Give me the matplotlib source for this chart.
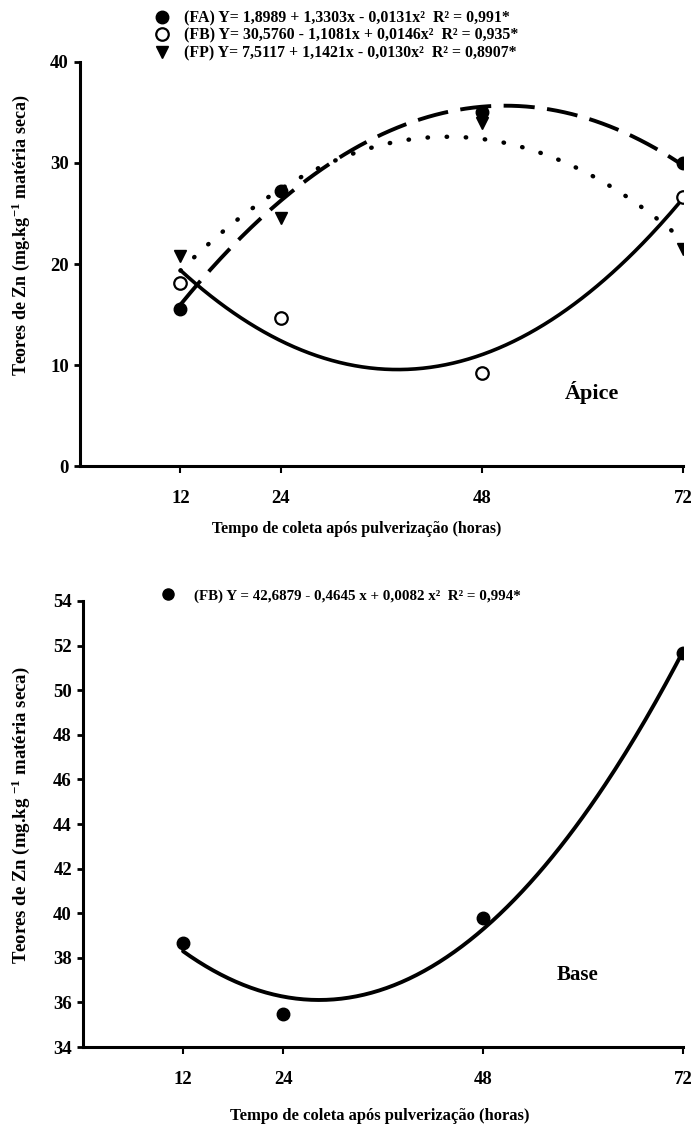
import numpy as np
import matplotlib.pyplot as plt
from matplotlib.lines import Line2D

plt.rcParams['font.family'] = 'Liberation Serif'
plt.rcParams['font.weight'] = 'bold'
plt.rcParams['mathtext.fontset'] = 'custom'
plt.rcParams['mathtext.rm'] = 'Liberation Serif:bold'
plt.rcParams['mathtext.it'] = 'Liberation Serif:bold'
plt.rcParams['mathtext.bf'] = 'Liberation Serif:bold'

# tempo de coleta (horas)
horas = [12, 24, 48, 72]

# apice: teores medidos
fa_apice = [15.5, 27.2, 35.0, 30.0]
fb_apice = [18.1, 14.7, 9.2, 26.6]
fp_apice = [20.8, 24.6, 34.0, 21.5]

# base: teores medidos
fb_base = [38.65, 35.5, 39.8, 51.65]

# coeficientes das regressoes (a, b, c) -> Y = a + b x + c x^2
coef_fa = [1.8989, 1.3303, -0.0131]
coef_fb = [30.5760, -1.1081, 0.0146]
coef_fp = [7.5117, 1.1421, -0.0130]
coef_base = [42.6879, -0.4645, 0.0082]

leg_apice = ["(FA) Y= 1,8989 + 1,3303x - 0,0131x²  R² = 0,991*",
             "(FB) Y= 30,5760 - 1,1081x + 0,0146x²  R² = 0,935*",
             "(FP) Y= 7,5117 + 1,1421x - 0,0130x²  R² = 0,8907*"]
leg_base = "(FB) Y = 42,6879 - 0,4645 x + 0,0082 x²  R² = 0,994*"

xlab = "Tempo de coleta após pulverização (horas)"
ylab = "Teores de Zn (mg.kg$^{-1}$ matéria seca)"


def quad(c, x):
    return c[0] + c[1] * x + c[2] * x ** 2


def estilo(ax, ylim, yticks):
    ax.set_xlim(0, 72)
    ax.set_ylim(*ylim)
    ax.set_xticks(horas)
    ax.set_yticks(yticks)
    for s in ['top', 'right']:
        ax.spines[s].set_visible(False)
    for s in ['left', 'bottom']:
        ax.spines[s].set_linewidth(2.2)
    ax.tick_params(axis='x', direction='out', length=5, width=1.5, pad=12, labelsize=13.5)
    ax.tick_params(axis='y', direction='out', length=4, width=2, pad=4, labelsize=13.5)
    for lb in ax.get_xticklabels() + ax.get_yticklabels():
        lb.set_fontweight('bold')


fig = plt.figure(figsize=(6.93, 11.35), dpi=100)

# --- Apice ---
ax1 = fig.add_axes([0.1154, 0.5894, 0.870, 0.356])
xx = np.linspace(12, 72, 200)
ax1.plot(xx, quad(coef_fb, xx), color='black', lw=2.6, solid_capstyle='round')
ax1.plot(xx, quad(coef_fa, xx), color='black', lw=2.8, dashes=(8, 3.2))
ax1.plot(xx, quad(coef_fp, xx), color='black', lw=3.2,
         linestyle=(0, (0.1, 4.2)), dash_capstyle='round')
ax1.plot(horas, fa_apice, 'o', color='black', ms=9, zorder=5)
ax1.plot(horas, fb_apice, 'o', mfc='white', mec='black', mew=1.6, ms=9, zorder=5)
ax1.plot(horas, fp_apice, 'v', color='black', ms=9, zorder=5)
estilo(ax1, (0, 40), [0, 10, 20, 30, 40])
ax1.set_xlabel(xlab, fontsize=11.5, fontweight='bold')
ax1.xaxis.set_label_coords(0.459, -0.135)
ax1.set_ylabel(ylab, fontsize=13, fontweight='bold')
ax1.yaxis.set_label_coords(-0.080, 0.57)
ax1.text(0.849, 0.183, "Ápice", transform=ax1.transAxes, fontsize=16,
         fontweight='bold', ha='center', va='center')

h1 = [Line2D([], [], marker='o', ls='none', color='black', ms=9),
      Line2D([], [], marker='o', ls='none', mfc='white', mec='black', mew=1.6, ms=9),
      Line2D([], [], marker='v', ls='none', color='black', ms=9)]
fig.legend(h1, leg_apice, loc='upper left', bbox_to_anchor=(0.222, 0.991),
           frameon=False, fontsize=11.4, handlelength=1.0, handletextpad=0.9,
           labelspacing=0.1, borderpad=0, borderaxespad=0)

# --- Base ---
ax2 = fig.add_axes([0.1198, 0.0775, 0.866, 0.393])
ax2.plot(xx, quad(coef_base, xx), color='black', lw=2.8, solid_capstyle='round')
ax2.plot(horas, fb_base, 'o', color='black', ms=9, zorder=5)
estilo(ax2, (34, 54), list(range(34, 55, 2)))
ax2.set_xlabel(xlab, fontsize=12, fontweight='bold')
ax2.xaxis.set_label_coords(0.494, -0.137)
ax2.set_ylabel(ylab.replace("kg$", "kg $"), fontsize=13.5, fontweight='bold')
ax2.yaxis.set_label_coords(-0.085, 0.52)
ax2.text(0.824, 0.161, "Base", transform=ax2.transAxes, fontsize=15,
         fontweight='bold', ha='center', va='center')

h2 = [Line2D([], [], marker='o', ls='none', color='black', ms=8)]
fig.legend(h2, [leg_base], loc='upper left', bbox_to_anchor=(0.232, 0.481),
           frameon=False, fontsize=10.8, handlelength=1.0, handletextpad=1.2,
           borderpad=0, borderaxespad=0)

fig.savefig("out.png", dpi=100)
plt.close()
